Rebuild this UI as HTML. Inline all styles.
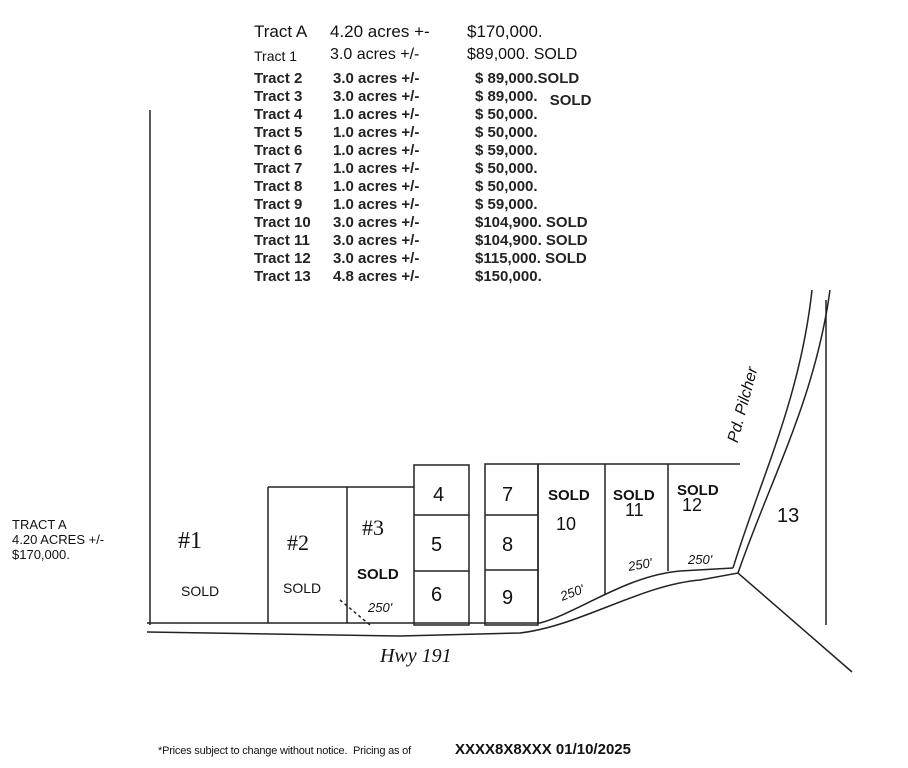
<!DOCTYPE html>
<html><head><style>
body{margin:0;background:#fff;width:908px;height:768px;overflow:hidden;position:relative;font-family:"Liberation Sans",sans-serif;}
.t{position:absolute;font-size:15px;color:#111;white-space:nowrap;}
.b{font-weight:bold;}
</style></head><body>
<div class="t" style="left:254px;top:22px;font-size:17px">Tract A</div>
<div class="t" style="left:330px;top:22px;font-size:17px">4.20 acres +-</div>
<div class="t" style="left:467px;top:22px;font-size:17px">$170,000.</div>
<div class="t" style="left:254px;top:48px;font-size:14px">Tract 1</div>
<div class="t" style="left:330px;top:46px;font-size:16px">3.0 acres +/-</div>
<div class="t" style="left:467px;top:46px;font-size:16px">$89,000. SOLD</div>
<div style="position:absolute;left:254px;top:70px;line-height:18px;font-size:15px;font-weight:bold;color:#222">
Tract 2<br>Tract 3<br>Tract 4<br>Tract 5<br>Tract 6<br>Tract 7<br>Tract 8<br>Tract 9<br>Tract 10<br>Tract 11<br>Tract 12<br>Tract 13</div>
<div style="position:absolute;left:333px;top:70px;line-height:18px;font-size:15px;font-weight:bold;color:#222">
3.0 acres +/-<br>3.0 acres +/-<br>1.0 acres +/-<br>1.0 acres +/-<br>1.0 acres +/-<br>1.0 acres +/-<br>1.0 acres +/-<br>1.0 acres +/-<br>3.0 acres +/-<br>3.0 acres +/-<br>3.0 acres +/-<br>4.8 acres +/-</div>
<div style="position:absolute;left:475px;top:70px;line-height:18px;font-size:15px;font-weight:bold;color:#222;white-space:nowrap">
$ 89,000.SOLD<br>$ 89,000. <span style="position:relative;top:4px;left:8px">SOLD</span><br>$ 50,000.<br>$ 50,000.<br>$ 59,000.<br>$ 50,000.<br>$ 50,000.<br>$ 59,000.<br>$104,900. SOLD<br>$104,900. SOLD<br>$115,000. SOLD<br>$150,000.</div>
<div class="t" style="left:12px;top:517px;font-size:13px;line-height:15px">TRACT A<br>4.20 ACRES +/-<br>$170,000.</div>
<svg width="908" height="768" style="position:absolute;left:0;top:0" fill="none" stroke="#222" stroke-width="1.5">
<path d="M150 110 L150 625"/>
<path d="M147 623 L540 623 C580 612 625 576 680 571 L733 568"/>
<path d="M147 632 L400 636 L520 633 C580 626 640 585 700 580 L738 573 L852 672"/>
<path d="M733 568 C760 480 800 400 812 290"/>
<path d="M738 573 C770 480 815 400 830 290"/>
<path d="M826 300 L826 625"/>
<path d="M268 487 L414 487 M268 487 L268 623 M347 487 L347 623"/>
<rect x="414" y="465" width="55" height="160"/>
<path d="M414 515 L469 515 M414 571 L469 571"/>
<rect x="485" y="464" width="53" height="161"/>
<path d="M485 515 L538 515 M485 570 L538 570"/>
<path d="M538 464 L740 464 M605 464 L605 595 M668 464 L668 571 M538 464 L538 623"/>
<path d="M340 600 L370 625" stroke-dasharray="3 3"/>
</svg>
<div class="t" style="left:178px;top:528px;font-size:24px;font-family:'Liberation Serif'">#1</div>
<div class="t" style="left:287px;top:530px;font-size:22px;font-family:'Liberation Serif'">#2</div>
<div class="t" style="left:362px;top:515px;font-size:22px;font-family:'Liberation Serif'">#3</div>
<div class="t" style="left:433px;top:484px;font-size:20px">4</div>
<div class="t" style="left:431px;top:534px;font-size:20px">5</div>
<div class="t" style="left:431px;top:584px;font-size:20px">6</div>
<div class="t" style="left:502px;top:484px;font-size:20px">7</div>
<div class="t" style="left:502px;top:534px;font-size:20px">8</div>
<div class="t" style="left:502px;top:587px;font-size:20px">9</div>
<div class="t" style="left:556px;top:514px;font-size:18px">10</div>
<div class="t" style="left:625px;top:500px;font-size:18px">11</div>
<div class="t" style="left:682px;top:495px;font-size:18px">12</div>
<div class="t" style="left:777px;top:505px;font-size:20px">13</div>
<div class="t" style="left:181px;top:583px;font-size:14px">SOLD</div>
<div class="t" style="left:283px;top:580px;font-size:14px">SOLD</div>
<div class="t b" style="left:357px;top:566px;font-size:15px">SOLD</div>
<div class="t b" style="left:548px;top:487px;font-size:15px">SOLD</div>
<div class="t b" style="left:613px;top:487px;font-size:15px">SOLD</div>
<div class="t b" style="left:677px;top:482px;font-size:15px">SOLD</div>
<div class="t" style="left:368px;top:600px;font-size:13px;font-style:italic">250'</div>
<div class="t" style="left:560px;top:585px;font-size:13px;font-style:italic;transform:rotate(-20deg)">250'</div>
<div class="t" style="left:628px;top:557px;font-size:13px;font-style:italic;transform:rotate(-10deg)">250'</div>
<div class="t" style="left:688px;top:552px;font-size:13px;font-style:italic">250'</div>
<div class="t" style="left:380px;top:645px;font-size:20px;font-style:italic;font-family:'Liberation Serif'">Hwy 191</div>
<div class="t" style="left:725px;top:440px;font-size:16px;font-style:italic;transform:rotate(-75deg);transform-origin:left top">Pd. Pilcher</div>
<div class="t" style="left:158px;top:745px;font-size:11px;letter-spacing:-0.2px">*Prices subject to change without notice.&nbsp; Pricing as of</div>
<div class="t b" style="left:455px;top:741px;font-size:15px">XXXX8X8XXX 01/10/2025</div>
</body></html>
